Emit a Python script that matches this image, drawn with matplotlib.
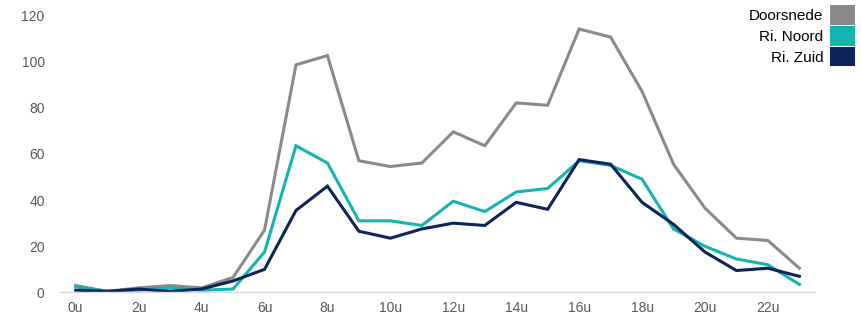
import numpy as np
import matplotlib
matplotlib.use('Agg')
import matplotlib.pyplot as plt
from matplotlib.patches import Patch

plt.rcParams['font.family'] = ['Liberation Sans', 'DejaVu Sans']

hours = list(range(24))
tick_labels = [f'{h}u' for h in range(0, 24, 2)]

doorsnede = [3, 0.5, 2, 3, 2, 6.5, 27, 98.5, 102.5, 57, 54.5, 56, 69.5, 63.5, 82, 81,
             114, 110.5, 87, 55.5, 36.5, 23.5, 22.5, 10.5]
ri_noord = [2.5, 0.5, 1, 2, 1, 1.5, 17.5, 63.5, 56, 31, 31, 29, 39.5, 35, 43.5, 45,
            57, 55, 49, 27.5, 20, 14.5, 12, 3.5]
ri_zuid = [1, 0.5, 1.5, 0.5, 1.5, 5, 10, 35.5, 46, 26.5, 23.5, 27.5, 30, 29, 39, 36,
           57.5, 55.5, 39, 29.5, 17.5, 9.5, 10.5, 7]

series = ['Doorsnede', 'Ri. Noord', 'Ri. Zuid']
colors = ['#8a8a8a', '#14b4b0', '#0c235c']

fig = plt.figure(figsize=(8.61, 3.17), dpi=100)
ax = fig.add_axes([0.0697, 0.0773, 0.877, 0.875])

for vals, c in zip([doorsnede, ri_noord, ri_zuid], colors):
    ax.plot(hours, vals, color=c, lw=2.2, solid_joinstyle='miter')

ax.set_xlim(-0.5, 23.5)
ax.set_ylim(0, 120)
ax.set_xticks(range(0, 24, 2))
ax.set_xticklabels(tick_labels)
ax.set_yticks(range(0, 121, 20))
for s in ['top', 'right', 'left']:
    ax.spines[s].set_visible(False)
ax.spines['bottom'].set_color('#d9d9d9')
ax.spines['bottom'].set_linewidth(1)
ax.tick_params(axis='both', length=0, labelsize=10, labelcolor='#595959')
ax.tick_params(axis='y', pad=11)
ax.tick_params(axis='x', pad=6)

handles = [Patch(facecolor=c, edgecolor='none') for c in colors]
fig.legend(handles, series, loc='upper right', bbox_to_anchor=(0.9925, 0.984),
           frameon=False, markerfirst=False, fontsize=11,
           handlelength=1.6, handleheight=1.6, handletextpad=0.45,
           labelspacing=0.08, borderpad=0, borderaxespad=0)

fig.savefig('out.png', dpi=100)
